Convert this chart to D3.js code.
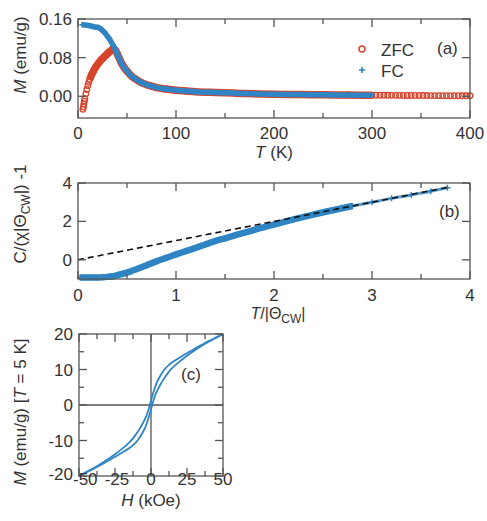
<!DOCTYPE html>
<html>
<head>
<meta charset="utf-8">
<script src="https://cdn.jsdelivr.net/npm/d3@7"></script>
<style>
  body { margin: 0; background: #fff; }
  text { font-family: "Liberation Sans", Arial, sans-serif; fill: #333; }
</style>
</head>
<body>
<svg id="chart" width="487" height="521"></svg>
<script>
// panel (a): M vs T
const fcT = [4, 6, 8, 10, 12, 14, 16, 18, 20, 22, 24, 26, 28, 30, 32, 34, 36, 38, 40, 42, 44, 46, 48, 50, 55, 60, 65, 70, 75, 80, 90, 100, 110, 120, 140, 160, 180, 200, 225, 250, 275, 300];
const fcM = [0.148, 0.148, 0.147, 0.147, 0.146, 0.145, 0.144, 0.143, 0.143, 0.141, 0.138, 0.134, 0.130, 0.124, 0.119, 0.112, 0.105, 0.097, 0.088, 0.079, 0.070, 0.063, 0.057, 0.052, 0.041, 0.034, 0.028, 0.024, 0.021, 0.018, 0.015, 0.0125, 0.011, 0.0095, 0.0078, 0.0065, 0.0052, 0.0042, 0.0036, 0.003, 0.0025, 0.0022];
const zfcT = [5, 5.5, 6, 6.5, 7, 8, 9, 10, 11, 12, 14, 16, 18, 20, 22, 24, 26, 28, 30, 32, 34, 35, 36, 38, 40, 42, 44, 46, 48, 50, 55, 60, 65, 70, 75, 80, 90, 100, 110, 120, 140, 160, 180, 200, 225, 250, 275, 300,
  304, 308, 312, 316, 320, 324, 328, 332, 336, 340, 344, 348, 352, 356, 360, 364, 368, 372, 376, 380, 384, 388, 392, 396, 400];
const zfcM = [-0.027, -0.022, -0.016, -0.010, -0.005, 0.005, 0.014, 0.022, 0.029, 0.035, 0.045, 0.053, 0.060, 0.066, 0.071, 0.076, 0.080, 0.084, 0.088, 0.092, 0.095, 0.097, 0.098, 0.096, 0.088, 0.079, 0.070, 0.063, 0.057, 0.052, 0.041, 0.034, 0.028, 0.024, 0.021, 0.018, 0.015, 0.0125, 0.011, 0.0095, 0.0078, 0.0065, 0.0052, 0.0042, 0.0036, 0.003, 0.0025, 0.0022,
  0.0021, 0.0021, 0.002, 0.002, 0.0019, 0.0019, 0.0018, 0.0018, 0.0017, 0.0017, 0.0016, 0.0016, 0.0015, 0.0015, 0.0014, 0.0014, 0.0013, 0.0013, 0.0012, 0.0012, 0.0011, 0.0011, 0.001, 0.001, 0.001];

// panel (b): C/(chi|Theta|) - 1 vs T/|Theta|
const redT = [0.02, 0.05, 0.1, 0.15, 0.2, 0.25, 0.3, 0.35, 0.4, 0.45, 0.5, 0.6, 0.7, 0.8, 0.9, 1.0, 1.1, 1.2, 1.3, 1.4, 1.5, 1.6, 1.7, 1.8, 1.9, 2.0, 2.2, 2.4, 2.6, 2.8, 3.0, 3.2, 3.4, 3.6, 3.77];
const redC = [-0.92, -0.92, -0.92, -0.92, -0.92, -0.91, -0.89, -0.86, -0.8, -0.74, -0.67, -0.48, -0.28, -0.08, 0.1, 0.28, 0.45, 0.62, 0.8, 0.97, 1.12, 1.27, 1.42, 1.56, 1.7, 1.83, 2.1, 2.35, 2.58, 2.8, 3.0, 3.2, 3.38, 3.57, 3.75];
const fitT = [0, 3.77];
const fitC = [0, 3.77];

// panel (c): hysteresis loop at 5 K (field sweeping down, then up)
const downH = [-50, -45, -40, -35, -30, -25, -20, -15, -12.5, -10, -8, -6.2, -5, -4, -3, -2, -1, 0, 1, 2, 2.8, 4, 6, 8.6, 10, 12.5, 15, 20, 25, 30, 35, 40, 45, 50];
const downM = [-20, -18.9, -17.8, -16.6, -15.3, -13.9, -12.3, -10.5, -9.4, -8.0, -6.8, -5.5, -4.6, -3.8, -2.8, -1.6, -0.2, 1.2, 2.7, 4.0, 5.0, 6.3, 7.9, 9.6, 10.3, 11.3, 12.1, 13.4, 14.6, 15.8, 16.9, 18.0, 19.0, 20];
const upH = [-50, -45, -40, -35, -30, -25, -20, -15, -12.5, -10, -8.6, -6, -4, -2.8, -2, -1, 0, 1, 2, 3, 4, 5, 6.2, 8, 10, 12.5, 15, 20, 25, 30, 35, 40, 45, 50];
const upM = [-20, -19.0, -18.0, -16.9, -15.8, -14.6, -13.4, -12.1, -11.3, -10.3, -9.6, -7.9, -6.3, -5.0, -4.0, -2.7, -1.2, 0.2, 1.6, 2.8, 3.8, 4.6, 5.5, 6.8, 8.0, 9.4, 10.5, 12.3, 13.9, 15.3, 16.6, 17.8, 18.9, 20];

const blue = "#2f84c4", red = "#d5452c", axisCol = "#555";
const svg = d3.select("#chart");

function frame(x, y, xMajor, xMinor, yMajor, yMinor) {
  const g = svg.append("g");
  const [xa, xb] = x.range(), [ya, yb] = y.range();
  const tick = (vals, len, horiz) => {
    vals.forEach(v => {
      if (horiz) {
        const px = x(v);
        g.append("line").attr("x1", px).attr("x2", px).attr("y1", ya).attr("y2", ya - len);
        g.append("line").attr("x1", px).attr("x2", px).attr("y1", yb).attr("y2", yb + len);
      } else {
        const py = y(v);
        g.append("line").attr("y1", py).attr("y2", py).attr("x1", xa).attr("x2", xa + len);
        g.append("line").attr("y1", py).attr("y2", py).attr("x1", xb).attr("x2", xb - len);
      }
    });
  };
  tick(xMajor, 8, true); tick(xMinor, 5, true);
  tick(yMajor, 8, false); tick(yMinor, 5, false);
  g.append("rect").attr("x", xa).attr("y", yb).attr("width", xb - xa).attr("height", ya - yb)
    .attr("fill", "none");
  g.selectAll("line,rect").attr("stroke", axisCol).attr("stroke-width", 1.3);
  return g;
}

function tickLabels(x, y, xVals, yVals, xFmt, yFmt, xBase) {
  svg.append("g").selectAll("text").data(xVals).join("text")
    .attr("x", d => x(d)).attr("y", xBase).attr("text-anchor", "middle")
    .attr("font-size", 17).text(xFmt);
  svg.append("g").selectAll("text").data(yVals).join("text")
    .attr("x", x.range()[0] - 6).attr("y", d => y(d) + 6).attr("text-anchor", "end")
    .attr("font-size", 17).text(yFmt);
}

function plus(g, pts, s, col, sw) {
  g.append("path")
    .attr("d", pts.map(([px, py]) => `M${px - s},${py}H${px + s}M${px},${py - s}V${py + s}`).join(""))
    .attr("stroke", col).attr("stroke-width", sw).attr("fill", "none");
}

// ---------- (a)
{
  const x = d3.scaleLinear().domain([0, 400]).range([78, 470]);
  const y = d3.scaleLinear().domain([-0.045, 0.16]).range([118, 19]);
  const g = svg.append("g");
  const line = d3.line().curve(d3.curveMonotoneX).x(d => x(d[0])).y(d => y(d[1]));
  const zfc = zfcT.map((t, i) => [t, zfcM[i]]);
  const fc = fcT.map((t, i) => [t, fcM[i]]);
  g.append("path").attr("d", line(zfc.filter(d => d[0] >= 12 && d[0] <= 300)))
    .attr("fill", "none").attr("stroke", red).attr("stroke-width", 7.5);
  g.selectAll("circle").data(zfc).join("circle")
    .attr("cx", d => x(d[0])).attr("cy", d => y(d[1])).attr("r", 2.8)
    .attr("fill", "none").attr("stroke", red).attr("stroke-width", 1.3);
  g.append("path").attr("d", line(fc))
    .attr("fill", "none").attr("stroke", blue).attr("stroke-width", 5.5);
  plus(g, fc.map(d => [x(d[0]), y(d[1])]), 2.5, blue, 1.5);
  frame(x, y, [0, 100, 200, 300, 400], [50, 150, 250, 350], [0, 0.08, 0.16], []);
  tickLabels(x, y, [0, 100, 200, 300, 400], [0, 0.08, 0.16], d => d, d3.format(".2f"), 139);
  // legend
  svg.append("circle").attr("cx", 362).attr("cy", 49).attr("r", 3)
    .attr("fill", "none").attr("stroke", red).attr("stroke-width", 1.5);
  plus(svg, [[362, 70]], 3, blue, 1.6);
  svg.append("text").attr("x", 381).attr("y", 56).attr("font-size", 17).text("ZFC");
  svg.append("text").attr("x", 381).attr("y", 77).attr("font-size", 17).text("FC");
  svg.append("text").attr("x", 437).attr("y", 54).attr("font-size", 17).text("(a)");
  const xl = svg.append("text").attr("x", 274).attr("y", 158).attr("text-anchor", "middle").attr("font-size", 17);
  xl.append("tspan").attr("font-style", "italic").text("T");
  xl.append("tspan").text(" (K)");
  const yl = svg.append("text").attr("transform", "translate(26,55) rotate(-90)")
    .attr("text-anchor", "middle").attr("font-size", 17);
  yl.append("tspan").attr("font-style", "italic").text("M");
  yl.append("tspan").text(" (emu/g)");
}

// ---------- (b)
{
  const x = d3.scaleLinear().domain([0, 4]).range([78, 470]);
  const y = d3.scaleLinear().domain([-1, 4]).range([279, 183]);
  const g = svg.append("g");
  const pts = redT.map((t, i) => [t, redC[i]]);
  const line = d3.line().curve(d3.curveMonotoneX).x(d => x(d[0])).y(d => y(d[1]));
  g.append("path").attr("d", line(pts.filter(d => d[0] <= 2.8)))
    .attr("fill", "none").attr("stroke", blue).attr("stroke-width", 6.5);
  g.append("path").attr("d", line(pts.filter(d => d[0] >= 2.6)))
    .attr("fill", "none").attr("stroke", blue).attr("stroke-width", 3).attr("stroke-opacity", 0.8);
  plus(g, pts.map(d => [x(d[0]), y(d[1])]), 3, blue, 1.4);
  g.append("path").attr("d", d3.line().x(d => x(d[0])).y(d => y(d[1]))(fitT.map((t, i) => [t, fitC[i]])))
    .attr("fill", "none").attr("stroke", "#111").attr("stroke-width", 1.6).attr("stroke-dasharray", "6,4");
  frame(x, y, [0, 1, 2, 3, 4], [0.5, 1.5, 2.5, 3.5], [0, 2, 4], []);
  tickLabels(x, y, [0, 1, 2, 3, 4], [0, 2, 4], d => d, d => d, 301);
  svg.append("text").attr("x", 439).attr("y", 217).attr("font-size", 17).text("(b)");
  const xl = svg.append("text").attr("x", 278).attr("y", 319).attr("text-anchor", "middle").attr("font-size", 16);
  xl.append("tspan").attr("font-style", "italic").text("T");
  xl.append("tspan").text("/|Θ");
  xl.append("tspan").attr("font-size", 12).attr("dy", 4).text("CW");
  xl.append("tspan").attr("dy", -4).text("|");
  const yl = svg.append("text").attr("transform", "translate(26,214) rotate(-90)")
    .attr("text-anchor", "middle").attr("font-size", 17);
  yl.append("tspan").text("C/(χ|Θ");
  yl.append("tspan").attr("font-size", 12).attr("dy", 4).text("CW");
  yl.append("tspan").attr("dy", -4).text("|) -1");
}

// ---------- (c)
{
  const x = d3.scaleLinear().domain([-50, 50]).range([79, 223]);
  const y = d3.scaleLinear().domain([-20, 20]).range([476, 334]);
  const g = svg.append("g");
  g.append("line").attr("x1", x(0)).attr("x2", x(0)).attr("y1", y(-20)).attr("y2", y(20))
    .attr("stroke", axisCol).attr("stroke-width", 1.3);
  g.append("line").attr("x1", x(-50)).attr("x2", x(50)).attr("y1", y(0)).attr("y2", y(0))
    .attr("stroke", axisCol).attr("stroke-width", 1.3);
  const line = d3.line().curve(d3.curveMonotoneX).x(d => x(d[0])).y(d => y(d[1]));
  [[downH, downM], [upH, upM]].forEach(([hs, ms]) => {
    g.append("path").attr("d", line(hs.map((h, i) => [h, ms[i]])))
      .attr("fill", "none").attr("stroke", blue).attr("stroke-width", 1.8);
  });
  frame(x, y, [-50, -25, 0, 25, 50], [-37.5, -12.5, 12.5, 37.5], [-20, -10, 0, 10, 20], [-15, -5, 5, 15]);
  const xv = [-50, -25, 0, 25, 50];
  svg.append("g").selectAll("text").data(xv).join("text")
    .attr("x", d => d === -50 ? x(d) - 6 : x(d) - (d < 0 ? -2 : 0))
    .attr("y", 485)
    .attr("text-anchor", d => d === -50 ? "start" : "middle")
    .attr("font-size", 17).text(d => d);
  svg.append("g").selectAll("text").data([-20, -10, 0, 10, 20]).join("text")
    .attr("x", 73).attr("y", d => y(d) + (d === -20 ? 4 : 6)).attr("text-anchor", "end")
    .attr("font-size", 17).text(d => d);
  svg.append("text").attr("x", 181).attr("y", 380).attr("font-size", 17).text("(c)");
  const xl = svg.append("text").attr("x", 151).attr("y", 506).attr("text-anchor", "middle").attr("font-size", 17);
  xl.append("tspan").attr("font-style", "italic").text("H");
  xl.append("tspan").text(" (kOe)");
  const yl = svg.append("text").attr("transform", "translate(26,412) rotate(-90)")
    .attr("text-anchor", "middle").attr("font-size", 17);
  yl.append("tspan").attr("font-style", "italic").text("M");
  yl.append("tspan").text(" (emu/g) [");
  yl.append("tspan").attr("font-style", "italic").text("T");
  yl.append("tspan").text(" = 5 K]");
}
</script>
</body>
</html>
